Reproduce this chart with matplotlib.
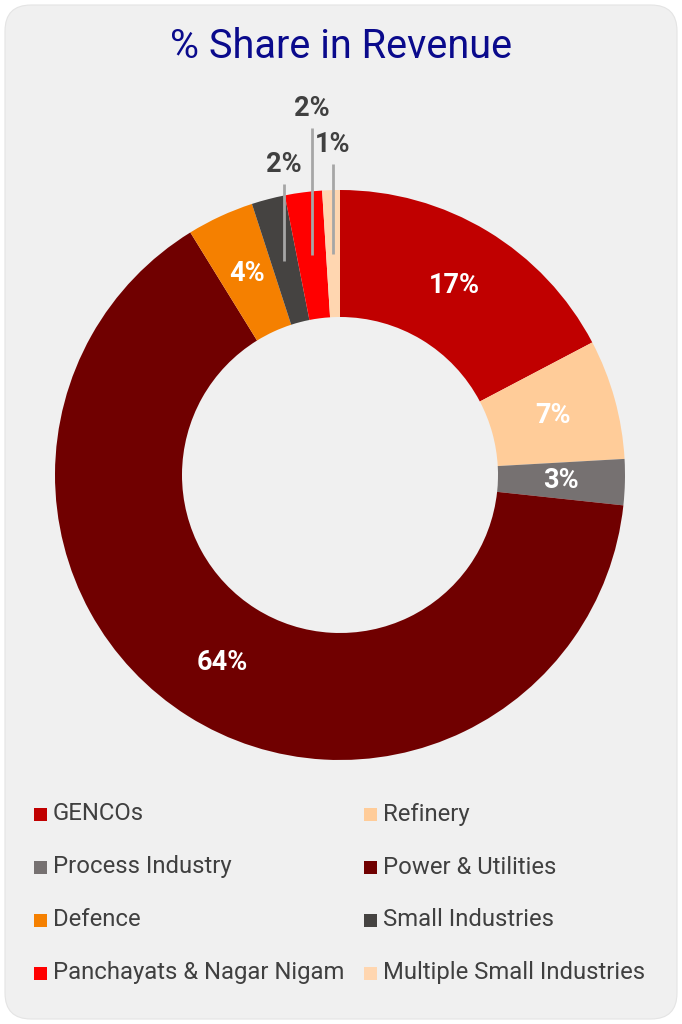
import matplotlib.pyplot as plt
from matplotlib.patches import FancyBboxPatch, Rectangle
import numpy as np

plt.rcParams['font.family'] = ['Roboto', 'DejaVu Sans']

# Revenue split by customer segment (%)
segments = ['GENCOs', 'Refinery', 'Process Industry', 'Power & Utilities',
            'Defence', 'Small Industries', 'Panchayats & Nagar Nigam',
            'Multiple Small Industries']
share = [17.3, 6.8, 2.6, 64.5, 3.8, 1.9, 2.1, 1.0]
colors = ['#C00000', '#FFCC99', '#767171', '#700000',
          '#F58000', '#454341', '#FF0000', '#FFD6B0']
outside = [False, False, False, False, False, True, True, True]
# top of leader line for the labels drawn outside the ring (pixels from top)
leader_top = {5: 184, 6: 128, 7: 164}

W, H = 682, 1024
fig = plt.figure(figsize=(W / 100, H / 100), dpi=100)
fig.patch.set_facecolor('white')
ax = fig.add_axes([0, 0, 1, 1])

cx, cy = 340, H - 475
R, ring = 285, 127

ax.add_patch(FancyBboxPatch((5, 5), W - 10, H - 10,
                            boxstyle='round,pad=0,rounding_size=26',
                            facecolor='#F0F0F0', edgecolor='#E4E4E4', lw=0.8))

wedges, _ = ax.pie(share, colors=colors, startangle=90, counterclock=False,
                   center=(cx, cy), radius=R,
                   wedgeprops=dict(width=ring, linewidth=0))

r_mid = R - ring / 2
for i, w in enumerate(wedges):
    ang = np.deg2rad((w.theta1 + w.theta2) / 2)
    x = cx + r_mid * np.cos(ang)
    y = cy + r_mid * np.sin(ang)
    txt = f'{share[i]:.0f}%'
    if not outside[i]:
        ax.text(x, y, txt, ha='center', va='center', color='white',
                fontsize=19.5, fontweight='bold')
    else:
        top = H - leader_top[i]
        ax.plot([x, x], [y, top], color='#A6A6A6', lw=2, solid_capstyle='butt')
        ax.text(x, top + 19, txt, ha='center', va='center', color='#404040',
                fontsize=19.5, fontweight='bold')

ax.text(W / 2, H - 46, '% Share in Revenue', ha='center', va='center',
        color='#0A0A8C', fontsize=28.5)

# two-column legend under the donut
for i, (name, c) in enumerate(zip(segments, colors)):
    col, row = i % 2, i // 2
    x0 = 34 if col == 0 else 364
    y0 = H - (814 + row * 53)
    ax.add_patch(Rectangle((x0, y0 - 6.5), 13, 13, facecolor=c, edgecolor='none'))
    ax.text(x0 + 19, y0, name, ha='left', va='center', color='#404040',
            fontsize=17.2)

ax.set_xlim(0, W)
ax.set_ylim(0, H)
ax.set_aspect('auto')
ax.axis('off')

fig.savefig('out.png', dpi=100, facecolor='white')
